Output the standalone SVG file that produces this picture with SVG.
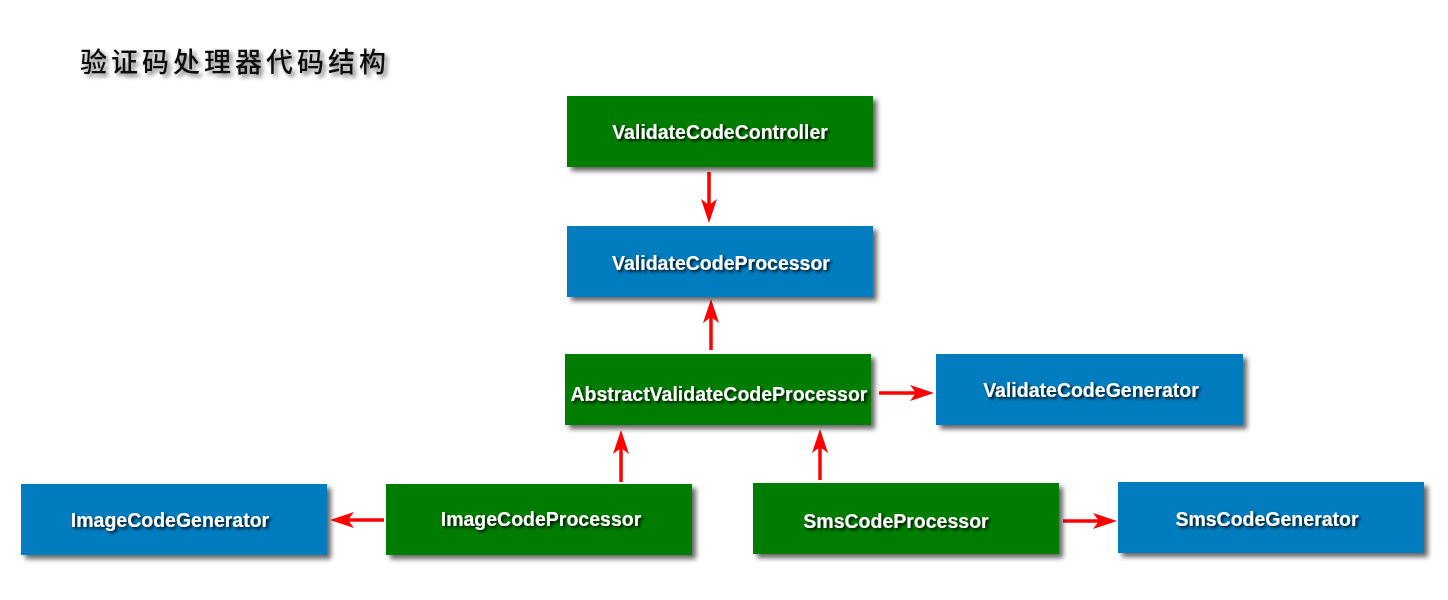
<svg xmlns="http://www.w3.org/2000/svg" width="1448" height="600" viewBox="0 0 1448 600">
<style>
.g{fill:#027d02}
.b{fill:#017cbf}
.t{fill:#fff;font-family:"Liberation Sans",Arial,sans-serif;font-weight:bold;font-size:19.5px;text-anchor:middle;filter:url(#ts)}
.c{stroke:#ff0000;stroke-width:3.5;fill:none;marker-end:url(#ah)}
.title{font-family:"Noto Sans CJK SC",sans-serif;font-weight:500;font-size:27px;letter-spacing:4px;fill:#111;filter:url(#tts)}
</style>
<defs>
<filter id="bs" x="-10%" y="-20%" width="125%" height="150%">
<feGaussianBlur in="SourceAlpha" stdDeviation="2.5"/>
<feOffset dx="4" dy="4" result="o"/>
<feComponentTransfer><feFuncA type="linear" slope="0.6"/></feComponentTransfer>
<feMerge><feMergeNode/><feMergeNode in="SourceGraphic"/></feMerge>
</filter>
<filter id="ts" x="-10%" y="-50%" width="120%" height="200%">
<feGaussianBlur in="SourceAlpha" stdDeviation="1.5"/>
<feOffset dx="2" dy="2"/>
<feComponentTransfer><feFuncA type="linear" slope="0.9"/></feComponentTransfer>
<feMerge><feMergeNode/><feMergeNode in="SourceGraphic"/></feMerge>
</filter>
<filter id="tts" x="-10%" y="-50%" width="120%" height="200%">
<feGaussianBlur in="SourceAlpha" stdDeviation="2"/>
<feOffset dx="3" dy="3"/>
<feComponentTransfer><feFuncA type="linear" slope="0.55"/></feComponentTransfer>
<feMerge><feMergeNode/><feMergeNode in="SourceGraphic"/></feMerge>
</filter>
<marker id="ah" viewBox="0 0 24 16" refX="13" refY="8" markerWidth="24" markerHeight="16" markerUnits="userSpaceOnUse" orient="auto">
<path d="M0,0 L24,8 L0,16 L6,8 Z" fill="#ff0000"/>
</marker>
</defs>
<text class="title" x="80" y="72">验证码处理器代码结构</text>
<g id="connectors">
<line class="c" x1="709" y1="172" x2="709" y2="212"/>
<line class="c" x1="711" y1="350" x2="711" y2="310"/>
<line class="c" x1="879" y1="393" x2="923" y2="393"/>
<line class="c" x1="621" y1="482" x2="621" y2="441"/>
<line class="c" x1="820" y1="480" x2="820" y2="440"/>
<line class="c" x1="384" y1="520" x2="341" y2="520"/>
<line class="c" x1="1063" y1="521" x2="1106" y2="521"/>
</g>
<g id="n1"><rect class="g" x="567" y="96" width="306" height="71" filter="url(#bs)"/><text class="t" x="720" y="139">ValidateCodeController</text></g>
<g id="n2"><rect class="b" x="567" y="226" width="306" height="71" filter="url(#bs)"/><text class="t" x="721" y="270">ValidateCodeProcessor</text></g>
<g id="n3"><rect class="g" x="565" y="354" width="306" height="71" filter="url(#bs)"/><text class="t" x="719" y="401">AbstractValidateCodeProcessor</text></g>
<g id="n4"><rect class="b" x="936" y="354" width="307" height="71" filter="url(#bs)"/><text class="t" x="1091" y="397">ValidateCodeGenerator</text></g>
<g id="n5"><rect class="b" x="21" y="484" width="306" height="71" filter="url(#bs)"/><text class="t" x="170" y="527">ImageCodeGenerator</text></g>
<g id="n6"><rect class="g" x="386" y="484" width="306" height="71" filter="url(#bs)"/><text class="t" x="541" y="526">ImageCodeProcessor</text></g>
<g id="n7"><rect class="g" x="753" y="483" width="306" height="71" filter="url(#bs)"/><text class="t" x="896" y="528">SmsCodeProcessor</text></g>
<g id="n8"><rect class="b" x="1118" y="482" width="306" height="71" filter="url(#bs)"/><text class="t" x="1267" y="526">SmsCodeGenerator</text></g>
</svg>
